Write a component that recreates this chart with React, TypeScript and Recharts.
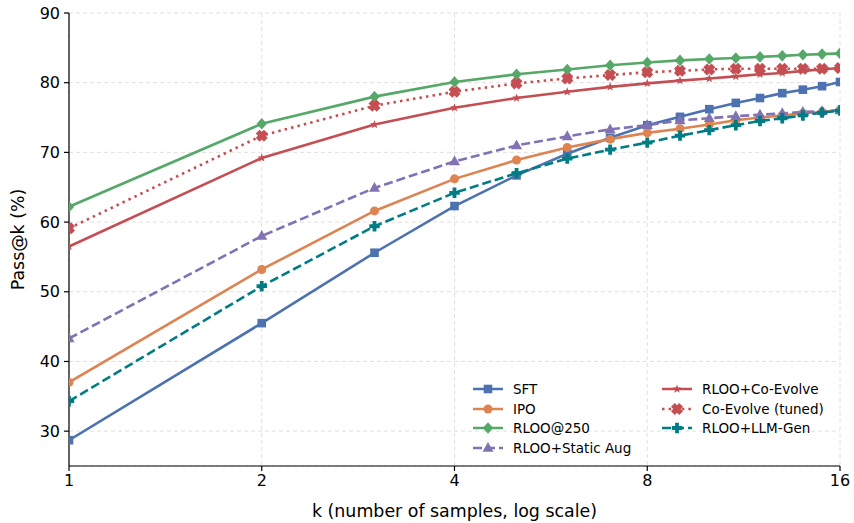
import React from 'react';
import { LineChart, Line, XAxis, YAxis, CartesianGrid } from 'recharts';

const kValues = [1, 2, 3, 4, 5, 6, 7, 8, 9, 10, 11, 12, 13, 14, 15, 16];
const xTicks = [1, 2, 4, 8, 16];
const yTicks = [30, 40, 50, 60, 70, 80, 90];

const sft = [28.7, 45.5, 55.6, 62.3, 66.7, 69.8, 72.1, 73.9, 75.1, 76.2, 77.1, 77.8, 78.5, 79.0, 79.5, 80.1];
const ipo = [37.0, 53.2, 61.6, 66.2, 68.9, 70.7, 71.9, 72.8, 73.4, 74.0, 74.6, 75.0, 75.3, 75.6, 75.8, 76.1];
const rloo250 = [62.2, 74.1, 78.0, 80.1, 81.2, 81.9, 82.5, 82.9, 83.2, 83.4, 83.55, 83.7, 83.85, 84.0, 84.1, 84.2];
const staticAug = [43.3, 58.0, 64.9, 68.7, 71.0, 72.3, 73.3, 73.9, 74.6, 74.9, 75.2, 75.4, 75.6, 75.8, 75.9, 76.0];
const coEvolve = [56.5, 69.2, 74.0, 76.4, 77.8, 78.7, 79.4, 79.9, 80.3, 80.6, 80.9, 81.2, 81.4, 81.7, 81.9, 82.1];
const coEvolveTuned = [59.1, 72.4, 76.7, 78.7, 79.9, 80.6, 81.1, 81.5, 81.7, 81.9, 82.0, 82.0, 82.0, 82.0, 82.0, 82.1];
const llmGen = [34.3, 50.8, 59.4, 64.2, 67.0, 69.1, 70.4, 71.4, 72.4, 73.2, 73.9, 74.5, 74.9, 75.3, 75.7, 76.0];

const data = kValues.map((k, i) => ({
  k,
  sft: sft[i],
  ipo: ipo[i],
  rloo250: rloo250[i],
  staticAug: staticAug[i],
  coEvolve: coEvolve[i],
  coEvolveTuned: coEvolveTuned[i],
  llmGen: llmGen[i],
}));

type Shape = 'square' | 'circle' | 'diamond' | 'triangle' | 'star' | 'x' | 'plus';

const series: { key: string; name: string; color: string; dash?: string; shape: Shape }[] = [
  { key: 'sft', name: 'SFT', color: '#4c72b0', shape: 'square' },
  { key: 'ipo', name: 'IPO', color: '#dd8452', shape: 'circle' },
  { key: 'rloo250', name: 'RLOO@250', color: '#55a868', shape: 'diamond' },
  { key: 'staticAug', name: 'RLOO+Static Aug', color: '#8172b3', dash: '9 4', shape: 'triangle' },
  { key: 'coEvolve', name: 'RLOO+Co-Evolve', color: '#c44e52', shape: 'star' },
  { key: 'coEvolveTuned', name: 'Co-Evolve (tuned)', color: '#c44e52', dash: '2.5 4.1', shape: 'x' },
  { key: 'llmGen', name: 'RLOO+LLM-Gen', color: '#007c85', dash: '9 4', shape: 'plus' },
];

function crossPoints(a: number, t: number, rot: number): [number, number][] {
  const base: [number, number][] = [
    [t, a], [t, t], [a, t], [a, -t], [t, -t], [t, -a],
    [-t, -a], [-t, -t], [-a, -t], [-a, t], [-t, t], [-t, a],
  ];
  const c = Math.cos(rot), s = Math.sin(rot);
  return base.map(([x, y]) => [x * c - y * s, x * s + y * c]);
}

function Marker({ shape, cx, cy, color }: { shape: Shape; cx: number; cy: number; color: string }) {
  if (cx == null || cy == null || isNaN(cx) || isNaN(cy)) return null;
  const pts = (arr: [number, number][]) => arr.map(([x, y]) => `${cx + x},${cy + y}`).join(' ');
  switch (shape) {
    case 'square':
      return <rect x={cx - 4.3} y={cy - 4.3} width={8.6} height={8.6} fill={color} />;
    case 'circle':
      return <circle cx={cx} cy={cy} r={4.5} fill={color} />;
    case 'diamond':
      return <polygon points={pts([[0, -5.8], [5.2, 0], [0, 5.8], [-5.2, 0]])} fill={color} />;
    case 'triangle':
      return <polygon points={pts([[0, -6], [5.5, 3.8], [-5.5, 3.8]])} fill={color} />;
    case 'star': {
      const arr: [number, number][] = [];
      for (let i = 0; i < 10; i++) {
        const r = i % 2 === 0 ? 4.6 : 1.9;
        const ang = -Math.PI / 2 + (i * Math.PI) / 5;
        arr.push([r * Math.cos(ang), r * Math.sin(ang)]);
      }
      return <polygon points={pts(arr)} fill={color} />;
    }
    case 'x':
      return <polygon points={pts(crossPoints(5.8, 2.7, Math.PI / 4))} fill={color} />;
    case 'plus':
      return <polygon points={pts(crossPoints(5.2, 1.9, 0))} fill={color} />;
  }
  return null;
}

const FONT = 'DejaVu Sans, sans-serif';

function LegendOverlay() {
  const col1 = series.slice(0, 4);
  const col2 = series.slice(4);
  const rows = [389, 409, 428, 448];
  const item = (s: typeof series[number], x0: number, y: number) => (
    <g key={s.key}>
      <line x1={x0} x2={x0 + 30} y1={y} y2={y} stroke={s.color} strokeWidth={2.5} strokeDasharray={s.dash} />
      <Marker shape={s.shape} cx={x0 + 15} cy={y} color={s.color} />
      <text x={x0 + 40} y={y} dominantBaseline="central" fontSize={13.5} fontFamily={FONT} fill="#000">
        {s.name}
      </text>
    </g>
  );
  return (
    <svg width={854} height={523} style={{ position: 'absolute', left: 0, top: 0, pointerEvents: 'none' }}>
      {col1.map((s, i) => item(s, 473, rows[i]))}
      {col2.map((s, i) => item(s, 662, rows[i]))}
    </svg>
  );
}

export default function App() {
  return (
    <div style={{ position: 'absolute', left: 0, top: 0, width: 854, height: 523, background: '#fff' }}>
      <LineChart width={854} height={523} data={data} margin={{ top: 13, right: 14, bottom: 0, left: 0 }}>
        <CartesianGrid stroke="#dcdcdc" strokeDasharray="4 3" strokeWidth={0.9} />
        <XAxis
          dataKey="k"
          type="number"
          scale="log"
          domain={[1, 16]}
          ticks={xTicks}
          allowDataOverflow
          height={57}
          stroke="#000"
          strokeWidth={1.2}
          tickSize={5}
          tickMargin={4}
          tick={{ fontSize: 16, fontFamily: FONT, fill: '#000' }}
          label={{ value: 'k (number of samples, log scale)', position: 'insideBottom', offset: 6, fontSize: 17.4, fontFamily: FONT, fill: '#000' }}
        />
        <YAxis
          type="number"
          domain={[25, 90]}
          ticks={yTicks}
          allowDataOverflow
          width={69}
          stroke="#000"
          strokeWidth={1.2}
          tickSize={5}
          tickMargin={4}
          tick={{ fontSize: 16, fontFamily: FONT, fill: '#000' }}
          label={{ value: 'Pass@k (%)', angle: -90, position: 'insideLeft', offset: 18, fontSize: 17.4, fontFamily: FONT, fill: '#000', style: { textAnchor: 'middle' } }}
        />
        {series.map((s) => (
          <Line
            key={s.key}
            dataKey={s.key}
            name={s.name}
            stroke={s.color}
            strokeWidth={2.6}
            strokeDasharray={s.dash}
            type="linear"
            isAnimationActive={false}
            dot={(p: any) => <Marker key={`${s.key}-${p.index}`} shape={s.shape} cx={p.cx} cy={p.cy} color={s.color} />}
            activeDot={false}
          />
        ))}
      </LineChart>
      <LegendOverlay />
    </div>
  );
}
